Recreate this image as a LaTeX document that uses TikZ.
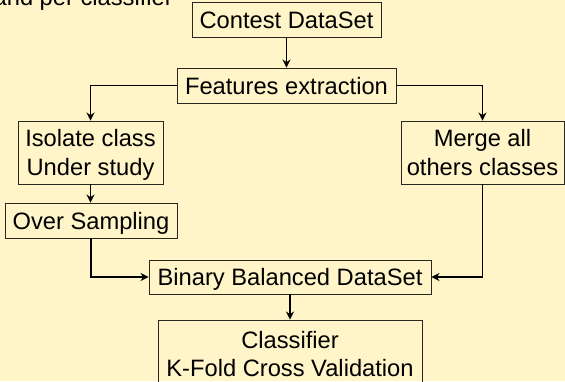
\documentclass[tikz,border=0pt]{standalone}
\usepackage{fontspec}
\setmainfont{Liberation Sans}
\usetikzlibrary{arrows.meta}
\definecolor{bgyellow}{RGB}{255,245,200}
\definecolor{boxline}{RGB}{40,40,30}
\tikzset{
  box/.style={draw=boxline, line width=0.9pt, inner sep=0pt, align=center,
    font=\fontsize{23.7}{28.5}\selectfont},
  oneline/.style={box, text height=17pt, text depth=0pt},
  twoline/.style={box, text height=45.5pt, text depth=0pt},
  link/.style={draw=black, line width=1.7pt, -{Stealth[length=8pt,width=8pt,inset=2.5pt]}}
}
\begin{document}
\begin{tikzpicture}[x=1pt,y=-1pt]
\fill[bgyellow] (0,0) rectangle (565,381);
\useasboundingbox (0,0) rectangle (565,381);
\node[anchor=base east, font=\fontsize{23.7}{28.5}\selectfont, inner sep=0pt] (title) at (173,5) {and per classifier};
\node[oneline, minimum width=189pt, minimum height=35pt] (contest) at (286.5,19.5) {Contest DataSet};
\node[oneline, minimum width=219pt, minimum height=35pt] (feat) at (286.5,85.5) {Features extraction};
\node[twoline, minimum width=145pt, minimum height=63pt] (isolate) at (90.5,152.5) {Isolate class\\Under study};
\node[oneline, minimum width=172pt, minimum height=35pt] (over) at (91,220.5) {Over Sampling};
\node[twoline, minimum width=163pt, minimum height=63pt] (merge) at (482.5,152.5) {Merge all\\others classes};
\node[oneline, minimum width=282pt, minimum height=34pt] (binary) at (290,277) {Binary Balanced DataSet};
\node[twoline, minimum width=264pt, minimum height=68pt] (classif) at (290,354) {Classifier\\K-Fold Cross Validation};
\draw[link] (contest.south) -- (feat.north);
\draw[link] (feat.west) -| (isolate.north);
\draw[link] (feat.east) -| (merge.north);
\draw[link] (isolate.south) -- (isolate.south |- over.north);
\draw[link] (over.south) |- (binary.west);
\draw[link] (merge.south) |- (binary.east);
\draw[link] (binary.south) -- (classif.north);
\end{tikzpicture}
\end{document}
